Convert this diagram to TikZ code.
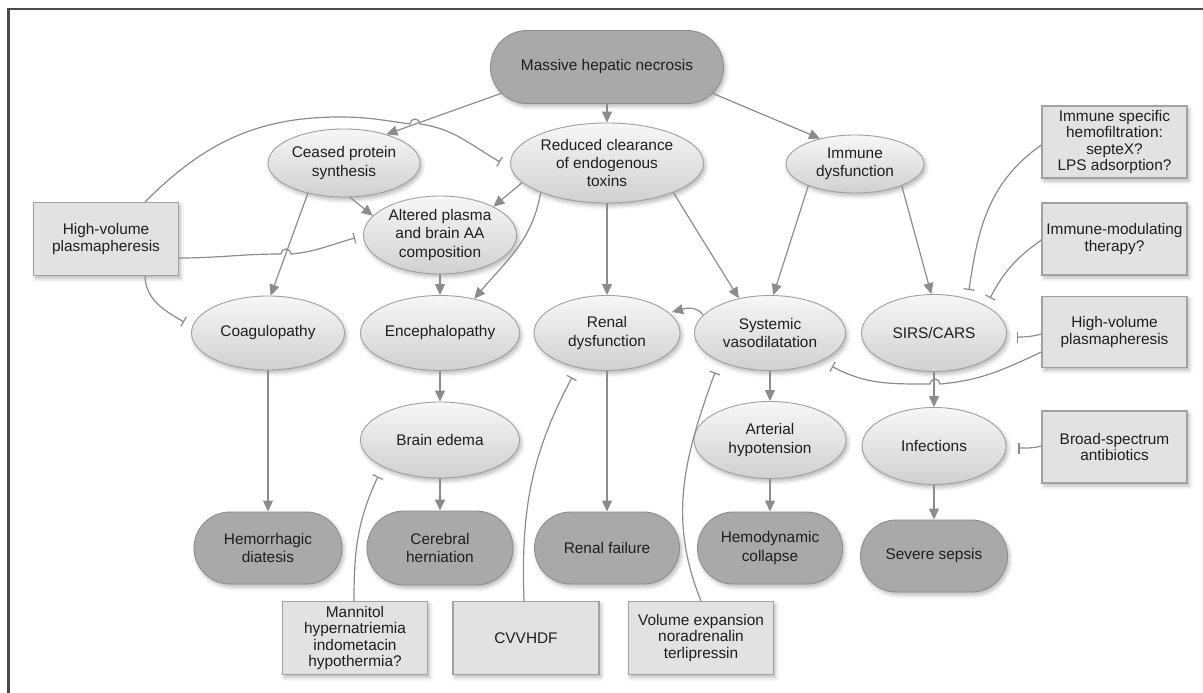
\documentclass[tikz,border=0pt]{standalone}
\usepackage{fontspec}
\setmainfont{Liberation Sans}
\usetikzlibrary{arrows.meta,shapes.geometric,shapes.misc,shadows.blur,calc}

\definecolor{edge}{HTML}{8C8C8C}
\definecolor{ellline}{HTML}{A0A0A0}
\definecolor{elltop}{HTML}{F7F7F7}
\definecolor{ellbot}{HTML}{D0D0D0}
\definecolor{darkfill}{HTML}{A9A9A9}
\definecolor{darkline}{HTML}{8E8E8E}
\definecolor{boxfill}{HTML}{E2E2E2}
\definecolor{boxline}{HTML}{A2A2A2}
\definecolor{txt}{HTML}{1E1E1E}
\definecolor{framecol}{HTML}{4A4A4A}

\tikzset{
  base/.style={inner sep=0pt, align=center, text=txt,
    font=\fontsize{15.4}{18.3}\selectfont,
    blur shadow={shadow xshift=2pt, shadow yshift=-3pt, shadow blur radius=4pt, shadow opacity=28}},
  oval/.style={base, ellipse, draw=ellline, line width=0.9pt, top color=elltop, bottom color=ellbot},
  pill/.style={base, rounded rectangle, draw=darkline, line width=0.9pt, fill=darkfill},
  therapy/.style={base, rectangle, draw=boxline, line width=1.2pt, fill=boxfill,
    minimum width=145pt, minimum height=72pt, font=\fontsize{15.4}{16.3}\selectfont},
  arr/.style={draw=edge, line width=1.2pt, -{Triangle[length=11pt,width=10pt]}},
  block/.style={draw=edge, line width=1.2pt, -{Bar[width=11pt,line width=1.2pt]}},
}

\begin{document}
\begin{tikzpicture}[x=1pt,y=1pt]
\useasboundingbox (0,0) rectangle (1203,-693);

% frame
\draw[framecol, line width=2.2pt] (8.5,-693) -- (8.5,-9) -- (1203,-9);

% top
\node[pill, minimum width=233pt, minimum height=73pt] (mhn) at (607,-67) {Massive hepatic necrosis};

% first tier
\node[oval, minimum width=152pt, minimum height=68pt] (cps) at (344,-163) {Ceased protein\\synthesis};
\node[oval, minimum width=193pt, minimum height=80pt] (rce) at (607,-163) {Reduced clearance\\of endogenous\\toxins};
\node[oval, minimum width=138pt, minimum height=58pt] (imd) at (855,-164) {Immune\\dysfunction};
\node[oval, minimum width=153pt, minimum height=78pt] (apb) at (440,-235) {Altered plasma\\and brain AA\\composition};

% syndromes
\node[oval, minimum width=153pt, minimum height=74pt] (coa) at (268,-333) {Coagulopathy};
\node[oval, minimum width=159pt, minimum height=75pt] (enc) at (440,-333) {Encephalopathy};
\node[oval, minimum width=146pt, minimum height=75pt] (ren) at (607,-333) {Renal\\dysfunction};
\node[oval, minimum width=151pt, minimum height=75pt] (sys) at (770,-333) {Systemic\\vasodilatation};
\node[oval, minimum width=145pt, minimum height=77pt] (sir) at (934,-333) {SIRS/CARS};

\node[oval, minimum width=159pt, minimum height=76pt] (bre) at (440,-440) {Brain edema};
\node[oval, minimum width=152pt, minimum height=77pt] (art) at (770,-440) {Arterial\\hypotension};
\node[oval, minimum width=144pt, minimum height=77pt] (inf) at (934,-446) {Infections};

% outcomes
\node[pill, minimum width=148pt, minimum height=72pt] (hem) at (268,-548) {Hemorrhagic\\diatesis};
\node[pill, minimum width=146pt, minimum height=74pt] (cer) at (440,-548) {Cerebral\\herniation};
\node[pill, minimum width=145pt, minimum height=72pt] (rfl) at (607,-548) {Renal failure};
\node[pill, minimum width=145pt, minimum height=72pt] (hdc) at (770,-548) {Hemodynamic\\collapse};
\node[pill, minimum width=147pt, minimum height=72pt] (sep) at (934,-556) {Severe sepsis};

% therapies
\node[therapy, minimum height=73pt] (hvl) at (106,-239) {High-volume\\plasmapheresis};
\node[therapy] (ims) at (1114.5,-142) {Immune specific\\hemofiltration:\\septeX?\\LPS adsorption?};
\node[therapy] (imm) at (1114.5,-239) {Immune-modulating\\therapy?};
\node[therapy, minimum height=71pt] (hvr) at (1114.5,-332) {High-volume\\plasmapheresis};
\node[therapy] (bsa) at (1114.5,-447) {Broad-spectrum\\antibiotics};
\node[therapy, minimum height=73pt] (man) at (355,-638) {Mannitol\\hypernatriemia\\indometacin\\hypothermia?};
\node[therapy, minimum height=73pt, minimum width=146pt] (cvv) at (526,-638) {CVVHDF};
\node[therapy, minimum height=73pt] (vol) at (701,-638) {Volume expansion\\noradrenalin\\terlipressin};

% causal arrows
\draw[arr] (mhn.194) -- (cps.34);
\draw[arr] (mhn.south) -- (rce.north);
\draw[arr] (mhn.346) -- (imd.144);
\draw[arr] (cps.220) -- (coa.86);
\draw[arr] (cps.280) -- (apb.164);
\draw[arr] (rce.193) -- (apb.28);
\draw[arr] (rce.204) to[out=-100,in=50] (enc.45);
\draw[arr] (apb.south) -- (enc.north);
\draw[arr] (rce.south) -- (ren.north);
\draw[arr] (rce.336) -- (sys.132);
\draw[arr] (imd.205) -- (sys.85);
\draw[arr] (imd.335) -- (sir.94);
\draw[arr, shorten >=3pt] (sys.165) to[out=125,in=15] (ren.18);
\draw[arr] (enc.south) -- (bre.north);
\draw[arr] (bre.south) -- (cer.north);
\draw[arr] (coa.south) -- (hem.north);
\draw[arr] (ren.south) -- (rfl.north);
\draw[arr] (sys.south) -- (art.north);
\draw[arr] (art.south) -- (hdc.north);
\draw[arr] (sir.south) -- (inf.north);
\draw[arr] (inf.south) -- (sep.north);

% inhibitory links
\draw[block] ($(hvl.north)+(39,0)$) to[out=45,in=180] (340,-117) to[out=0,in=172] (410,-124)
  arc[start angle=180,end angle=0,radius=5] to[out=-8,in=150] ($(rce.west)+(-10,1)$);
\draw[block] ($(hvl.east)+(0,-19)$) to[out=0,in=180] (281,-254)
  arc[start angle=180,end angle=0,radius=5] to[out=5,in=195] ($(apb.west)+(-8,-3)$);
\draw[block] ($(hvl.south)+(39,0)$) to[out=-88,in=150] ($(coa.west)+(-7,11)$);

\draw[block] ($(ims.west)+(0,-3)$) to[out=215,in=82] ($(sir.north)+(35,4)$);
\draw[block] ($(imm.west)+(0,-1)$) to[out=215,in=62] ($(sir.north)+(56,-4)$);
\draw[block] ($(hvr.west)+(0,-2)$) to[out=195,in=0] ($(sir.east)+(10,-4)$);
\draw[block] ($(hvr.west)+(0,-20)$) to[out=205,in=5] (940,-384)
  arc[start angle=0,end angle=180,radius=5] to[out=180,in=-28] ($(sys.south)+(62,4.5)$);
\draw[block] ($(bsa.west)+(0,1)$) to[out=195,in=0] ($(inf.east)+(12,-2)$);

\draw[block] ($(man.north)+(-1,0)$) to[out=90,in=-115] ($(bre.south)+(-62,2)$);
\draw[block] ($(cvv.north)+(-2,0)$) to[out=92,in=-118] ($(ren.south)+(-35,-6.5)$);
\draw[block] (vol.north) to[out=112,in=-110] ($(sys.south)+(-55,-1.5)$);
\end{tikzpicture}
\end{document}
